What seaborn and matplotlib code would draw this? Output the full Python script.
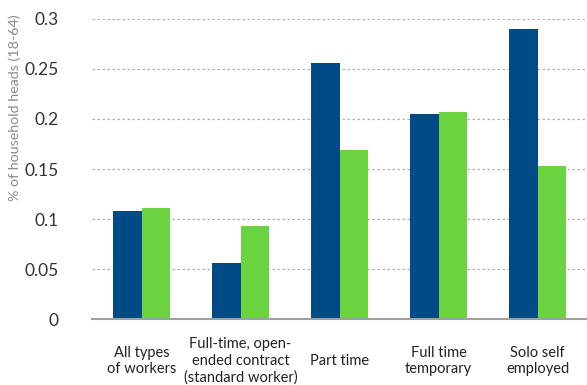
import matplotlib
matplotlib.use("Agg")
import matplotlib.pyplot as plt
import seaborn as sns
import pandas as pd
from matplotlib.ticker import FixedLocator

categories = [
    "All types\nof workers",
    "Full-time, open-\nended contract\n(standard worker)",
    "Part time",
    "Full time\ntemporary",
    "Solo self\nemployed",
]
series_names = ["series_1", "series_2"]
series_1 = [0.108, 0.056, 0.256, 0.205, 0.290]
series_2 = [0.111, 0.093, 0.169, 0.207, 0.153]
y_ticks = [0, 0.05, 0.1, 0.15, 0.2, 0.25, 0.3]
y_tick_labels = ["0", "0.05", "0.1", "0.15", "0.2", "0.25", "0.3"]
y_label = "% of household heads (18-64)"

df = pd.DataFrame({
    "category": categories * 2,
    "group": [series_names[0]] * len(categories) + [series_names[1]] * len(categories),
    "value": series_1 + series_2,
})

sns.set_theme(style="white")
plt.rcParams["font.family"] = ["Lato", "DejaVu Sans"]

fig = plt.figure(figsize=(5.87, 3.85), dpi=100)
ax = fig.add_axes([0.157, 0.171, 0.843, 0.780])

sns.barplot(
    data=df, x="category", y="value", hue="group",
    order=categories, hue_order=series_names,
    palette=["#004a85", "#6ad33f"], width=0.57,
    saturation=1, errorbar=None, legend=False, ax=ax,
    edgecolor="none", linewidth=0,
)

ax.set_xlim(-0.5, len(categories) - 0.5)
ax.set_ylim(0, 0.3)
ax.set_yticks(y_ticks)
ax.set_yticklabels(y_tick_labels)
ax.yaxis.grid(True, linestyle=(0, (2, 2)), color="#b0b0b0", linewidth=0.9)
ax.set_axisbelow(True)

for side in ["top", "right", "left"]:
    ax.spines[side].set_visible(False)
ax.spines["bottom"].set_color("#a0a0a0")
ax.spines["bottom"].set_linewidth(1.5)

ax.tick_params(axis="y", length=0, pad=24, labelsize=12.5, labelcolor="#333333")
ax.tick_params(axis="x", which="major", length=0, pad=30, labelsize=10.5, labelcolor="#222222")
ax.xaxis.set_minor_locator(FixedLocator([i - 0.5 for i in range(len(categories) + 1)]))
ax.tick_params(axis="x", which="minor", length=5, width=1.5, color="#a0a0a0", direction="out")
for lbl in ax.get_xticklabels():
    lbl.set_verticalalignment("center")
    lbl.set_linespacing(1.2)

ax.set_xlabel("")
ax.set_ylabel(y_label, fontsize=10.3, color="#8a8a8a")
ax.yaxis.set_label_coords(-0.143, 0.705)

fig.savefig("out.png", dpi=100)
